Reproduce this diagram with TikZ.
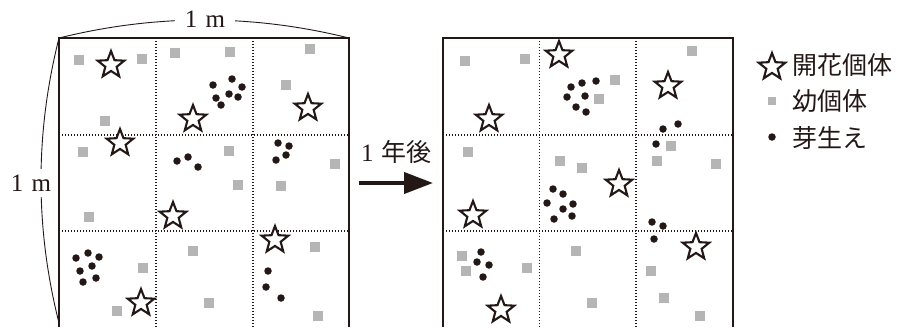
\documentclass[tikz,border=0pt]{standalone}
\usepackage{fontspec}
\setmainfont{Liberation Serif}
\newfontfamily\jpfont{Noto Sans CJK JP}
\usetikzlibrary{shapes.geometric,arrows.meta}
\definecolor{ink}{HTML}{231815}
\definecolor{juv}{HTML}{B5B5B6}
\begin{document}
\begin{tikzpicture}[x=1pt,y=-1pt,
  flower/.style={star,star points=5,star point ratio=2.35,minimum size=28pt,inner sep=0pt,draw=ink,line width=2.1pt,fill=white},
  juvenile/.style={rectangle,fill=juv,minimum size=9.5pt,inner sep=0pt},
  seedling/.style={circle,fill=ink,minimum size=7.5pt,inner sep=0pt},
  frame/.style={draw=ink,line width=1.3pt},
  gridline/.style={draw=ink,line width=1.2pt,dash pattern=on 1.2pt off 1.8pt},
  brace/.style={draw=ink,line width=0.9pt},
  dimlabel/.style={fill=white,text=ink,font=\fontsize{25pt}{25pt}\selectfont},
  legendtext/.style={anchor=west,inner sep=0pt,text=ink,font=\jpfont\fontsize{25pt}{25pt}\selectfont}
]
\useasboundingbox (0,0) rectangle (903,327);

% ---- left plot (before) ----
\draw[gridline] (156,38) -- (156,327) (253,38) -- (253,327)
                (59,135) -- (349,135) (59,231) -- (349,231);
\draw[frame] (59,327) -- (59,38) -- (349,38) -- (349,327);

% ---- right plot (after 1 year) ----
\draw[gridline] (539.5,38) -- (539.5,327) (636,38) -- (636,327)
                (443,135) -- (733,135) (443,231) -- (733,231);
\draw[frame] (443,327) -- (443,38) -- (733,38) -- (733,327);

% ---- dimension curves and labels ----
\draw[brace] (59,38) .. controls (156,14) and (252,14) .. (349,38);
\draw[brace] (59,38) .. controls (35,133) and (35,228) .. (59,323);
\node[dimlabel,inner xsep=10pt,inner ysep=4pt] (topdim) at (205,19) {1\hspace{0.33em}m};
\node[dimlabel,inner xsep=2pt,inner ysep=6pt] (leftdim) at (31,183) {1\hspace{0.33em}m};

% ---- left plot items ----
\foreach \p [count=\i] in {(79,60),(142,59),(105,121),(175,53),(230,52),(310,49),(286,85),
   (83,152),(89,217),(229,151),(238,185),(335,164),(281,186),(143,268),(117,311),
   (193,251),(209,303),(315,247),(318,316)}
  \node[juvenile] (Lj\i) at \p {};
\foreach \p [count=\i] in {(213,85),(232,79),(242,87),(229,94),(238,97),(216,98),(221,105),
   (177,161),(188,157),(198,167),(278,143),(289,146),(286,155),(276,160),
   (76,258),(88,253),(99,257),(92,266),(80,271),(96,278),(83,282),
   (268,271),(266,287),(281,298)}
  \node[seedling] (Ld\i) at \p {};
\foreach \p [count=\i] in {(111,65),(193,119),(308,108),(120,143),(173,216),(275,240),(141,303)}
  \node[flower] (Lf\i) at \p {};

% ---- right plot items ----
\foreach \p [count=\i] in {(465,61),(525,59),(615,80),(599,99),(692,51),(468,152),(560,161),
   (582,168),(671,146),(657,161),(716,164),(462,256),(466,271),(527,268),(576,251),
   (592,303),(651,271),(664,298),(700,316)}
  \node[juvenile] (Rj\i) at \p {};
\foreach \p [count=\i] in {(571,87),(582,83),(596,81),(567,97),(585,96),(576,107),(586,112),
   (553,189),(563,194),(547,203),(573,204),(563,209),(554,219),(572,216),
   (663,129),(678,124),(656,144),(481,252),(477,262),(489,265),(483,277),
   (652,222),(663,226),(654,239)}
  \node[seedling] (Rd\i) at \p {};
\foreach \p [count=\i] in {(489,119),(559,55),(668,86),(473,215),(619,184),(501,310),(696,247)}
  \node[flower] (Rf\i) at \p {};

% ---- arrow ----
\coordinate (arrS) at (359,183);
\coordinate (arrE) at (433,183);
\draw[ink,line width=4pt,-{Triangle[length=29pt,width=21pt]}] (arrS) -- (arrE);
\node[text=ink,font=\fontsize{25pt}{25pt}\selectfont] (yearlabel) at (396,152)
  {1\hspace{0.3em}{\jpfont 年後}};

% ---- legend ----
\node[flower] (legF) at (772,67) {};
\node[legendtext] (legFt) at (792,65) {開花個体};
\node[juvenile,minimum size=8.5pt] (legJ) at (772,101) {};
\node[legendtext] (legJt) at (792,101) {幼個体};
\node[seedling] (legD) at (772,137) {};
\node[legendtext] (legDt) at (792,138) {芽生え};
\end{tikzpicture}
\end{document}
